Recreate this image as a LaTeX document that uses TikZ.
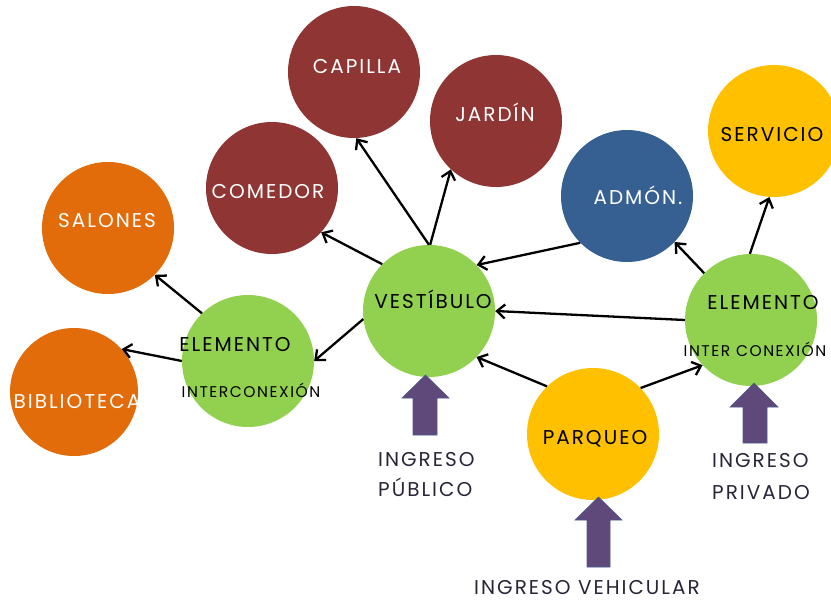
\documentclass[tikz,border=0pt]{standalone}
\usepackage{fontspec}
\setmainfont{Poppins}[LetterSpace=10]
\usetikzlibrary{arrows.meta}
\definecolor{cred}{HTML}{8F3634}
\definecolor{corange}{HTML}{E36C0A}
\definecolor{cgreen}{HTML}{92D050}
\definecolor{cblue}{HTML}{376092}
\definecolor{cyellow}{HTML}{FFC000}
\definecolor{cpurple}{HTML}{5F497A}
\definecolor{cedge}{HTML}{4B5C8C}
\definecolor{ctext}{HTML}{2A2438}
\begin{document}
\begin{tikzpicture}[x=1pt,y=-1pt,
  bub/.style={circle,minimum size=132pt,inner sep=0pt},
  lab/.style={font=\fontsize{20}{22}\selectfont,inner sep=0pt,anchor=base},
  small/.style={font=\fontsize{15.5}{17}\selectfont,inner sep=0pt,anchor=base},
  conn/.style={draw=black,line width=2.3pt,-{Straight Barb[length=8pt,width=14pt]}},
  blk/.style={fill=cpurple,draw=cedge,line width=0.6pt}]
\useasboundingbox (0,0) rectangle (831,600);
% circles
\node[bub,fill=cred] (capilla) at (354,72) {};
\node[bub,fill=cred] (jardin) at (496,121) {};
\node[bub,fill=cred] (comedor) at (272,188) {};
\node[bub,fill=cblue] (admon) at (627,196) {};
\node[bub,fill=cyellow] (servicio) at (774,131) {};
\node[bub,fill=corange] (salones) at (108,228) {};
\node[bub,fill=corange,minimum size=128pt] (biblio) at (74,392) {};
\node[bub,fill=cgreen] (elemL) at (248,361) {};
\node[bub,fill=cgreen] (vest) at (429,311) {};
\node[bub,fill=cgreen] (elemR) at (751,320) {};
\node[bub,fill=cyellow] (parq) at (593,434) {};
% texts
\node[lab,text=white] (tcapilla) at (357,73) {CAPILLA};
\node[lab,text=white] (tjardin) at (495,121) {JARDÍN};
\node[lab,text=white] (tcomedor) at (268,198) {COMEDOR};
\node[lab,text=white] (tadmon) at (638,204) {ADMÓN.};
\node[lab,text=black] (tservicio) at (772,141) {SERVICIO};
\node[lab,text=white] (tsalones) at (107,227) {SALONES};
\node[lab,text=white] (tbiblio) at (77,408) {BIBLIOTECA};
\node[lab,text=black] (telemL) at (235,351) {ELEMENTO};
\node[small,text=black] (tinterL) at (251,397) {INTERCONEXIÓN};
\node[lab,text=black] (tvest) at (433,308) {VESTÍBULO};
\node[lab,text=black] (telemR) at (763,309) {ELEMENTO};
\node[small,text=black] (tinterR) at (755,356) {INTER CONEXIÓN};
\node[lab,text=black] (tparq) at (595,444) {PARQUEO};
% connectors
\draw[conn] (vest.135) -- (comedor.318);
\draw[conn] (vest.90) -- (capilla.272);
\draw[conn] (vest.89) -- (jardin.227);
\draw[conn] (admon.225) -- (vest.44);
\draw[conn] (vest.187) -- (elemL.0);
\draw[conn] (elemL.134) -- (salones.315);
\draw[conn] (elemL.180) -- (biblio.42);
\draw[conn] (elemR.180) -- (vest.0);
\draw[conn] (elemR.135) -- (admon.316);
\draw[conn] (elemR.91) -- (servicio.266);
\draw[conn] (parq.134) -- (vest.316);
\draw[conn] (parq.44) -- (elemR.223);
% block arrows
\draw[blk] (413,435) -- (413,398) -- (402,398) -- (425.5,375) -- (449,398) -- (437,398) -- (437,435) -- cycle;
\draw[blk] (743,443) -- (743,407) -- (730,407) -- (754,383) -- (778,407) -- (767,407) -- (767,443) -- cycle;
\draw[blk] (587,567) -- (587,520) -- (575,520) -- (598.5,497) -- (622,520) -- (610,520) -- (610,567) -- cycle;
% entrance labels
\node[lab,text=ctext,anchor=base west] (ingpub1) at (378,466) {INGRESO};
\node[lab,text=ctext,anchor=base west] (ingpub2) at (378,496) {PÚBLICO};
\node[lab,text=ctext,anchor=base west] (ingpri1) at (712,467) {INGRESO};
\node[lab,text=ctext,anchor=base west] (ingpri2) at (712,499) {PRIVADO};
\node[lab,text=ctext] (ingveh) at (587,594) {INGRESO VEHICULAR};
\end{tikzpicture}
\end{document}
